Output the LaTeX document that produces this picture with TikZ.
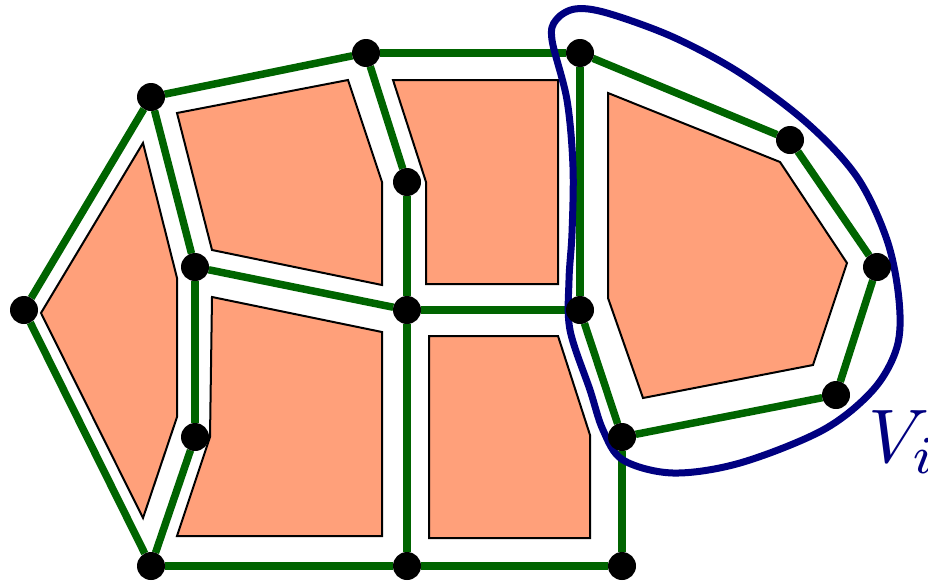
\documentclass[tikz,border=0pt]{standalone}
\usepackage{graphicx}
\definecolor{edgegreen}{RGB}{0,100,0}
\definecolor{facesalmon}{RGB}{255,160,122}
\definecolor{regionblue}{RGB}{0,0,128}
\pgfdeclarelayer{background}
\pgfsetlayers{background,main}
\begin{document}
\begin{tikzpicture}[x=1pt,y=-1pt,
  vtx/.style={circle,fill=black,minimum size=28pt,inner sep=0pt,outer sep=0pt},
  edge/.style={draw=edgegreen,line width=7.5pt},
  face/.style={fill=facesalmon,draw=black,line width=2pt,line join=miter},
  region/.style={draw=regionblue,line width=7pt},
  lbl/.style={text=regionblue,inner sep=0pt,anchor=base west}]
\useasboundingbox (0,0) rectangle (928,581);
\clip (0,0) rectangle (928,581);
% vertices
\node[vtx] (A) at (24,310) {};
\node[vtx] (B) at (151,97) {};
\node[vtx] (C) at (366,53) {};
\node[vtx] (D) at (580,53) {};
\node[vtx] (E) at (790,140) {};
\node[vtx] (F) at (877,267) {};
\node[vtx] (G) at (836,395) {};
\node[vtx] (H) at (622,437) {};
\node[vtx] (I) at (580,310) {};
\node[vtx] (J) at (407,310) {};
\node[vtx] (K) at (407,182) {};
\node[vtx] (L) at (195,267) {};
\node[vtx] (M) at (195,437) {};
\node[vtx] (N) at (151,566) {};
\node[vtx] (O) at (407,566) {};
\node[vtx] (P) at (622,566) {};
\begin{pgfonlayer}{background}
% faces
\draw[face] (143,143) -- (177,278) -- (177,417) -- (143,518) -- (41,313) -- cycle;
\draw[face] (177,113) -- (348,80) -- (382,182) -- (382,285) -- (212,250) -- cycle;
\draw[face] (393,80) -- (558,80) -- (558,284) -- (426,284) -- (426,182) -- cycle;
\draw[face] (608,93) -- (780,162) -- (847,263) -- (813,365) -- (643,398) -- (608,298) -- cycle;
\draw[face] (212,297) -- (382,332) -- (382,536) -- (177,536) -- (210,437) -- cycle;
\draw[face] (429,336) -- (558,336) -- (590,435) -- (590,538) -- (429,538) -- cycle;
% edges
\draw[edge] (A) -- (B);
\draw[edge] (B) -- (C);
\draw[edge] (C) -- (D);
\draw[edge] (D) -- (E);
\draw[edge] (E) -- (F);
\draw[edge] (F) -- (G);
\draw[edge] (G) -- (H);
\draw[edge] (H) -- (I);
\draw[edge] (D) -- (I);
\draw[edge] (C) -- (K);
\draw[edge] (K) -- (J);
\draw[edge] (B) -- (L);
\draw[edge] (L) -- (J);
\draw[edge] (J) -- (I);
\draw[edge] (L) -- (M);
\draw[edge] (M) -- (N);
\draw[edge] (A) -- (N);
\draw[edge] (N) -- (O);
\draw[edge] (O) -- (P);
\draw[edge] (H) -- (P);
\draw[edge] (J) -- (O);
% region curve
\draw[region] plot[smooth cycle,tension=0.55] coordinates {
 (556,20) (575,9) (607,13) (673,37) (740,73) (807,123) (857,177) (887,240)
 (899,300) (897,347) (873,390) (823,430) (740,463) (673,473) (623,460)
 (603,430) (590,390) (570,330) (569,280) (572,233) (573,167) (567,100) (552,40)};
\end{pgfonlayer}
\node[lbl] (Vi) at (868,462) {\scalebox{7.6}{$V_i$}};
\end{tikzpicture}
\end{document}
